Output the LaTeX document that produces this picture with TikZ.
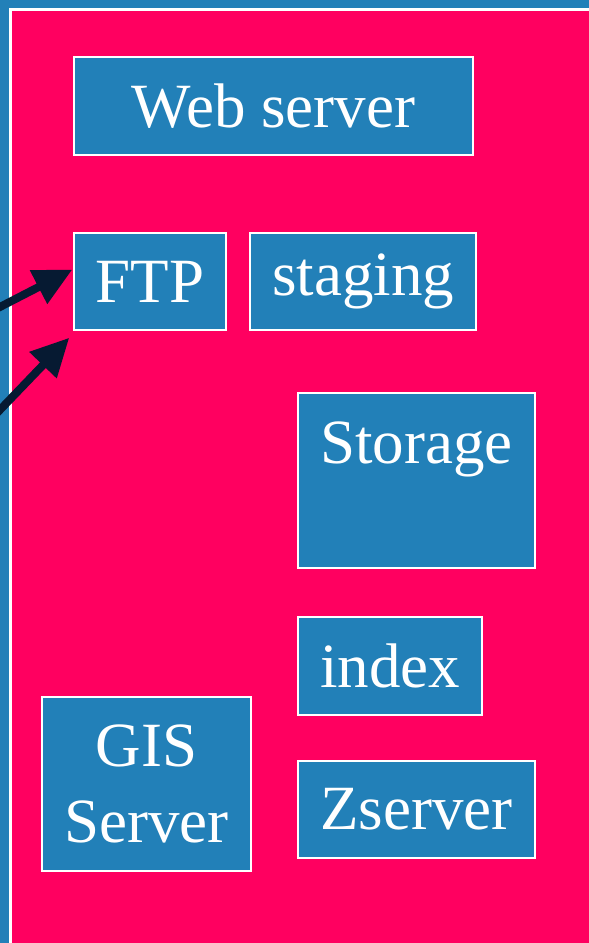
\documentclass[tikz,border=0pt]{standalone}
\usepackage{fontspec}
\setmainfont{Liberation Serif}
\usetikzlibrary{arrows.meta,calc}
\definecolor{slideblue}{RGB}{34,128,184}
\definecolor{slidered}{RGB}{255,0,96}
\definecolor{arrownavy}{RGB}{6,26,50}
\tikzset{
  box/.style={draw=white, line width=1.5pt, fill=slideblue, text=white,
    inner sep=0pt, align=center, font=\fontsize{63}{76}\selectfont},
  arr/.style={arrownavy, line width=8pt, -{Triangle[length=38pt,width=36pt]}}
}
\begin{document}
\begin{tikzpicture}[x=1pt,y=-1pt]
        % Fondo de la diapositiva
        \useasboundingbox (0,0) rectangle (589,943);
        \fill[slideblue] (0,0) rectangle (589,943);
        \clip (0,0) rectangle (589,943);
        \draw[white, line width=3pt, fill=slidered] (10,9) rectangle (620,980);

        % Servidores
        \node[box, minimum width=399, minimum height=98] (web) at (273.5,106) {Web server};
        \node[box, minimum width=152, minimum height=97] (ftp) at (150,281.5) {FTP};
        \node[box, minimum width=226, minimum height=97] (staging) at (363,281.5) {staging};
        \node[box, minimum width=237, minimum height=175] (storage) at (416.5,480.5) {};
        \node[text=white, font=\fontsize{63}{76}\selectfont, below, inner sep=0pt] (storagelabel) at ($(storage.north)+(0,29)$) {Storage};
        \node[box, minimum width=184, minimum height=98] (index) at (390,666) {index};
        \node[box, minimum width=209, minimum height=174] (gis) at (146.5,784) {GIS\\Server};
        \node[box, minimum width=237, minimum height=97] (zserver) at (416.5,809.5) {Zserver};

        % Flechas hacia el FTP
        \coordinate (src1) at (-4,309);
        \coordinate (src2) at (-4,414);
        \draw[arr] (src1) -- ($(ftp.north west)!0.38!(ftp.south west)+(-1,0)$);
        \draw[arr] (src2) -- ($(ftp.south west)+(-4,7)$);
    \end{tikzpicture}
\end{document}
